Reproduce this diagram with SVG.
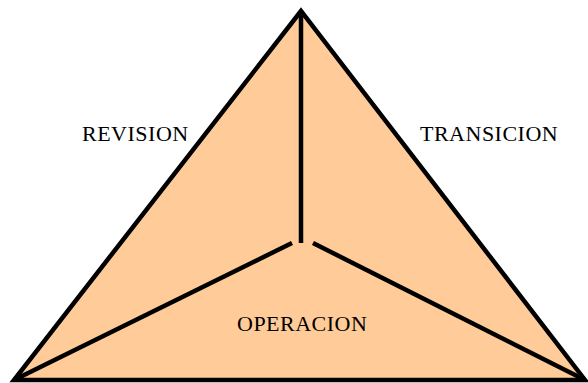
<svg xmlns="http://www.w3.org/2000/svg" width="588" height="383" viewBox="0 0 588 383">
<style>
.ln{stroke:#000;stroke-width:4.5;fill:none;stroke-linecap:butt}
.lbl{font-family:"Liberation Serif","Times New Roman",serif;font-size:22px;letter-spacing:0.5px;fill:#000}
</style>
<rect width="588" height="383" fill="#fff"/>
<g id="triangle">
<polygon points="301,11 14,380 585,380" fill="#FFCC99" stroke="#000" stroke-width="4.5" stroke-linejoin="miter"/>
</g>
<g id="connectors">
<line class="ln" x1="301" y1="11" x2="301" y2="243"/>
<line class="ln" x1="292" y1="243" x2="14" y2="380"/>
<line class="ln" x1="313" y1="243" x2="585" y2="380"/>
</g>
<g id="revision"><text class="lbl" x="82" y="141">REVISION</text></g>
<g id="transicion"><text class="lbl" x="420" y="141">TRANSICION</text></g>
<g id="operacion"><text class="lbl" x="237" y="331">OPERACION</text></g>
</svg>
